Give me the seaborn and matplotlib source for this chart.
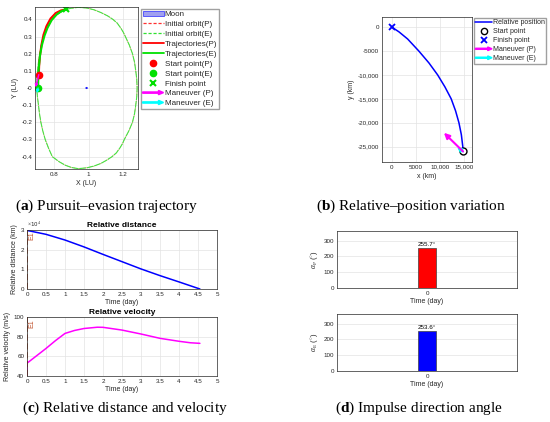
import numpy as np
import matplotlib
matplotlib.use("Agg")
import matplotlib.pyplot as plt
import seaborn as sns
from matplotlib.lines import Line2D
from matplotlib.patches import Patch, FancyArrow, Circle
from matplotlib.legend_handler import HandlerBase
from matplotlib.ticker import FuncFormatter

# ---- datos ----
# (a) orbita inicial (LU)
orbit_x = [0.700, 0.701, 0.705, 0.710, 0.718, 0.727, 0.738, 0.754, 0.765, 0.780, 0.800, 0.820, 0.855,
           0.869, 0.900, 0.940, 0.990, 1.030, 1.070, 1.110, 1.140, 1.165, 1.185, 1.200, 1.212, 1.235,
           1.253, 1.265, 1.272, 1.278, 1.280,
           1.278, 1.272, 1.265, 1.253, 1.232, 1.206, 1.195, 1.180, 1.160, 1.135, 1.105, 1.070, 1.030,
           0.990, 0.940, 0.900, 0.865, 0.830, 0.810, 0.790, 0.768, 0.749, 0.735, 0.724, 0.716, 0.710,
           0.704, 0.701, 0.700]
orbit_y = [0.00, 0.05, 0.10, 0.15, 0.20, 0.25, 0.30, 0.35, 0.375, 0.40, 0.418, 0.430, 0.450,
           0.458, 0.465, 0.470, 0.466, 0.456, 0.440, 0.420, 0.400, 0.378, 0.350, 0.325, 0.300, 0.250,
           0.200, 0.150, 0.100, 0.050, 0.000,
           -0.050, -0.100, -0.150, -0.200, -0.250, -0.300, -0.325, -0.350, -0.378, -0.400, -0.420,
           -0.440, -0.455, -0.465, -0.470, -0.463, -0.450, -0.430, -0.415, -0.400, -0.350, -0.300,
           -0.250, -0.200, -0.150, -0.100, -0.050, -0.020, 0.000]
traj_p_x = [0.712, 0.714, 0.719, 0.727, 0.739, 0.756, 0.780, 0.810, 0.840, 0.869]
traj_p_y = [0.078, 0.130, 0.190, 0.250, 0.310, 0.360, 0.405, 0.437, 0.452, 0.458]
traj_e_x = [0.708, 0.709, 0.712, 0.719, 0.730, 0.745, 0.762, 0.786, 0.815, 0.843, 0.869]
traj_e_y = [0.000, 0.060, 0.120, 0.190, 0.250, 0.305, 0.350, 0.395, 0.428, 0.448, 0.458]
start_p = (0.712, 0.078)
start_e = (0.708, 0.000)
finish_a = (0.869, 0.458)
moon = (0.988, 0.0)
man_p_tip_a = (0.693, 0.004)
man_e_tip_a = (0.700, -0.030)

# (b) posicion relativa (km)
rel_x = [0, 1500, 3300, 5600, 7700, 9500, 11000, 12300, 13200, 13900, 14400, 14700, 14750]
rel_y = [0, -1000, -2500, -5000, -7500, -10000, -12500, -15000, -17500, -20000, -22500, -25000, -26000]
man_p_tip_b = (10800, -22100)
man_e_tip_b = (13500, -25100)

# (c) distancia y velocidad relativas
t_dist = [0, 0.5, 1, 1.5, 2, 2.5, 3, 3.5, 4, 4.55]
dist_km = [29800, 27800, 24900, 21400, 17600, 13900, 10200, 6800, 3600, 0]
t_vel = [0, 0, 0.25, 0.5, 0.75, 1, 1.25, 1.5, 1.85, 2, 2.5, 3, 3.5, 4, 4.3, 4.55]
vel_ms = [40, 53, 60.5, 68, 76, 83.3, 86.3, 88.3, 89.6, 89.5, 86.7, 82.7, 78.3, 75.3, 73.8, 73.2]

# (d) angulos de impulso
angle_p = 255.7
angle_e = 253.6

# ---- estilo ----
sns.set_style("whitegrid")
plt.rcParams["font.family"] = ["Liberation Sans", "DejaVu Sans"]
plt.rcParams["axes.unicode_minus"] = False
plt.rcParams["mathtext.fontset"] = "custom"
plt.rcParams["mathtext.rm"] = "Liberation Serif"
plt.rcParams["mathtext.it"] = "Liberation Serif:italic"
plt.rcParams["mathtext.bf"] = "Liberation Serif:bold"

W, H = 550, 422
TXT = "#262626"
fig = plt.figure(figsize=(W / 100, H / 100), dpi=100)


def rect(l, t, r, b):
    return [l / W, 1 - b / H, (r - l) / W, (b - t) / H]


def style(ax):
    ax.set_facecolor("white")
    ax.grid(True, color="#E3E3E3", lw=0.5)
    ax.tick_params(direction="in", length=2, width=0.5, labelsize=4.5, colors=TXT, pad=2)
    for s in ax.spines.values():
        s.set_visible(True)
        s.set_linewidth(0.5)
        s.set_color(TXT)


fmt_g = FuncFormatter(lambda v, p: "%g" % v)


def fmt_km(v, p):
    if abs(v) >= 10000:
        return "{:,.0f}".format(v)
    return "%d" % v


class ArrowHandler(HandlerBase):
    def create_artists(self, legend, orig, xd, yd, w, h, fs, trans):
        a = FancyArrow(-xd, -yd + h / 2, w, 0, width=h * 0.22, head_width=h * 0.75,
                       head_length=h * 0.9, length_includes_head=True,
                       color=orig.get_color(), transform=trans)
        return [a]


def arrow(ax, start, tip, color, lw, ms):
    ax.annotate("", xy=tip, xytext=start,
                arrowprops=dict(arrowstyle="-|>", color=color, lw=lw, mutation_scale=ms,
                                shrinkA=0, shrinkB=0))


# ---- (a) ----
ax = fig.add_axes(rect(35, 7, 138, 169))
style(ax)
sns.lineplot(x=orbit_x, y=orbit_y, sort=False, estimator=None, color="#FF4040", lw=0.35,
             ls=(0, (4, 1)), ax=ax)
sns.lineplot(x=orbit_x, y=orbit_y, sort=False, estimator=None, color="#44E844", lw=0.8,
             ls=(0, (6, 0.8)), ax=ax)
sns.lineplot(x=traj_p_x, y=traj_p_y, sort=False, estimator=None, color="red", lw=1.5, ax=ax)
sns.lineplot(x=traj_e_x, y=traj_e_y, sort=False, estimator=None, color="#00E000", lw=1.5, ax=ax)
ax.add_patch(Circle(moon, 0.005, facecolor="blue", edgecolor="blue", lw=0.3))
arrow(ax, start_p, man_p_tip_a, "magenta", 1.0, 4)
arrow(ax, start_e, man_e_tip_a, "cyan", 1.0, 4)
ax.plot(*start_p, "o", color="red", ms=4.5)
ax.plot(*start_e, "o", color="#00E000", ms=4.5)
ax.plot(*finish_a, "x", color="#00E000", ms=4, mew=1.5)
ax.set_xlim(0.69, 1.285)
ax.set_ylim(-0.472, 0.472)
ax.set_xticks([0.8, 1.0, 1.2])
ax.set_yticks(np.round(np.arange(-0.4, 0.41, 0.1), 1))
ax.xaxis.set_major_formatter(fmt_g)
ax.yaxis.set_major_formatter(fmt_g)
ax.set_xlabel("X (LU)", fontsize=5, color=TXT, labelpad=2)
ax.set_ylabel("Y (LU)", fontsize=5, color=TXT, labelpad=2)

mp = Line2D([], [], color="magenta")
me = Line2D([], [], color="cyan")
handles_a = [
    Patch(facecolor="#A0A0F0", edgecolor="blue", lw=0.4),
    Line2D([], [], color="#FF3030", ls=(0, (2.5, 1.5)), lw=0.9),
    Line2D([], [], color="#30E030", ls=(0, (2.5, 1.5)), lw=0.9),
    Line2D([], [], color="red", lw=1.3),
    Line2D([], [], color="#00E000", lw=1.3),
    Line2D([], [], color="red", marker="o", ls="", ms=4.5),
    Line2D([], [], color="#00E000", marker="o", ls="", ms=4.5),
    Line2D([], [], color="#00E000", marker="x", ls="", ms=4, mew=1.5),
    mp, me,
]
labels_a = ["Moon", "Initial orbit(P)", "Initial orbit(E)", "Trajectories(P)", "Trajectories(E)",
            "Start point(P)", "Start point(E)", "Finish point", "Maneuver (P)", "Maneuver (E)"]
fig.legend(handles_a, labels_a, loc="upper left", bbox_to_anchor=(141 / W, 1 - 9 / H),
           fontsize=5.8, frameon=True, fancybox=False, edgecolor="#A0A0A0", framealpha=1,
           handlelength=2.6, handletextpad=0.15, labelspacing=0.28, borderpad=0.2,
           borderaxespad=0, handler_map={mp: ArrowHandler(), me: ArrowHandler()})

# ---- (b) ----
ax = fig.add_axes(rect(382, 17, 472, 162))
style(ax)
sns.lineplot(x=rel_x, y=rel_y, sort=False, estimator=None, color="blue", lw=1.1, ax=ax)
arrow(ax, (rel_x[-1], rel_y[-1]), man_e_tip_b, "cyan", 1.4, 6)
arrow(ax, (rel_x[-1], rel_y[-1]), man_p_tip_b, "magenta", 1.5, 8)
ax.plot(rel_x[-1], rel_y[-1], "o", mfc="white", mec="black", ms=5, mew=1.0)
ax.plot(rel_x[0], rel_y[0], "x", color="blue", ms=4, mew=1.3)
ax.set_xlim(-2000, 16600)
ax.set_ylim(-28200, 2100)
ax.set_xticks([0, 5000, 10000, 15000])
ax.set_yticks([0, -5000, -10000, -15000, -20000, -25000])
ax.xaxis.set_major_formatter(FuncFormatter(fmt_km))
ax.yaxis.set_major_formatter(FuncFormatter(fmt_km))
ax.set_xlabel("x (km)", fontsize=5, color=TXT, labelpad=2)
ax.set_ylabel("y (km)", fontsize=5, color=TXT, labelpad=2)

mp2 = Line2D([], [], color="magenta")
me2 = Line2D([], [], color="cyan")
handles_b = [
    Line2D([], [], color="blue", lw=1.1),
    Line2D([], [], marker="o", mfc="white", mec="black", ls="", ms=4.5, mew=1.0),
    Line2D([], [], marker="x", color="blue", ls="", ms=4, mew=1.3),
    mp2, me2,
]
labels_b = ["Relative position", "Start point", "Finish point", "Maneuver (P)", "Maneuver (E)"]
fig.legend(handles_b, labels_b, loc="upper left", bbox_to_anchor=(474 / W, 1 - 18 / H),
           fontsize=5.0, frameon=True, fancybox=False, edgecolor="#A0A0A0", framealpha=1,
           handlelength=2.4, handletextpad=0.15, labelspacing=0.28, borderpad=0.2,
           borderaxespad=0, handler_map={mp2: ArrowHandler(), me2: ArrowHandler()})

# ---- (c) ----
e1_color = "#C0502A"
ax = fig.add_axes(rect(27, 230, 217, 289))
style(ax)
sns.lineplot(x=t_dist, y=dist_km, sort=False, estimator=None, color="blue", lw=1.1, ax=ax)
ax.axvline(0, color=e1_color, ls="--", lw=1.2)
ax.text(0.13, 29300, "E1", rotation=90, fontsize=5, color=e1_color, va="top", ha="center")
ax.set_xlim(0, 5)
ax.set_ylim(0, 30000)
ax.set_xticks(np.arange(0, 5.01, 0.5))
ax.set_yticks([0, 10000, 20000, 30000])
ax.xaxis.set_major_formatter(fmt_g)
ax.yaxis.set_major_formatter(FuncFormatter(lambda v, p: "%g" % (v / 1e4)))
ax.text(0, 1.02, r"$\times$10$^{4}$", transform=ax.transAxes, fontsize=4, color=TXT,
        family="DejaVu Sans", va="bottom")
ax.set_title("Relative distance", fontsize=6, fontweight="bold", color="black", pad=2)
ax.set_xlabel("Time (day)", fontsize=5, color=TXT, labelpad=1.5)
ax.set_ylabel("Relative distance (km)", fontsize=5, color=TXT, labelpad=2)

ax = fig.add_axes(rect(27, 317, 217, 376))
style(ax)
sns.lineplot(x=t_vel, y=vel_ms, sort=False, estimator=None, color="magenta", lw=1.1, ax=ax)
ax.axvline(0, color=e1_color, ls="--", lw=1.2)
ax.text(0.13, 97.5, "E1", rotation=90, fontsize=5, color=e1_color, va="top", ha="center")
ax.set_xlim(0, 5)
ax.set_ylim(40, 100)
ax.set_xticks(np.arange(0, 5.01, 0.5))
ax.set_yticks([40, 60, 80, 100])
ax.xaxis.set_major_formatter(fmt_g)
ax.set_title("Relative velocity", fontsize=6, fontweight="bold", color="black", pad=2)
ax.set_xlabel("Time (day)", fontsize=5, color=TXT, labelpad=1.5)
ax.set_ylabel("Relative velocity (m/s)", fontsize=5, color=TXT, labelpad=2)

# ---- (d) ----
for (top, bot), val, col, lab in [((231, 288), angle_p, "red", r"$\alpha_{\rm P}$ ($^{\circ}$)"),
                                  ((314, 371), angle_e, "blue", r"$\alpha_{\rm E}$ ($^{\circ}$)")]:
    ax = fig.add_axes(rect(337, top, 517, bot))
    style(ax)
    sns.barplot(x=[0], y=[val], color=col, width=0.1, saturation=1, edgecolor="#404040",
                linewidth=0.5, ax=ax)
    ax.set_xlim(-0.5, 0.5)
    ax.set_ylim(0, 360)
    ax.set_yticks([0, 100, 200, 300])
    ax.set_xticks([0])
    ax.set_xticklabels(["0"])
    ax.text(0, val + 4, "%.1f°" % val, ha="center", va="bottom", fontsize=4.5, color="black")
    ax.set_xlabel("Time (day)", fontsize=5, color=TXT, labelpad=1.5)
    ax.set_ylabel(lab, fontsize=5.5, color=TXT, labelpad=2)

# ---- titulos de subfiguras ----
cap = dict(fontsize=11, family="Liberation Serif", color="black", ha="center", va="center")
fig.text(107 / W, 1 - 206 / H, r"($\mathbf{a}$) Pursuit–evasion trajectory", **cap)
fig.text(411 / W, 1 - 206 / H, r"($\mathbf{b}$) Relative–position variation", **cap)
fig.text(125 / W, 1 - 408 / H, r"($\mathbf{c}$) Relative distance and velocity", **cap)
fig.text(419 / W, 1 - 408 / H, r"($\mathbf{d}$) Impulse direction angle", **cap)

fig.savefig("out.png", dpi=100)
